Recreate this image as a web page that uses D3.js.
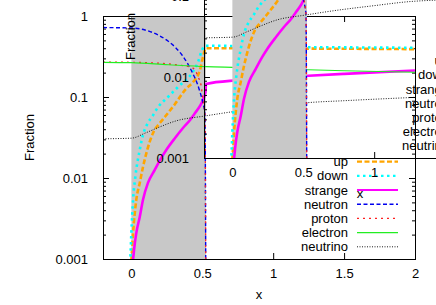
<!DOCTYPE html>
<html>
<head>
<meta charset="utf-8">
<script src="https://cdn.jsdelivr.net/npm/d3@7"></script>
<style>
  body { margin: 0; background: #fff; }
  svg { display: block; font-family: "Liberation Sans", Arial, sans-serif; }
</style>
</head>
<body>
<svg id="chart" width="436" height="305"></svg>
<script>
'use strict';

// axis ticks and the shaded mixed phase
const xTicks = [0, 0.5, 1, 1.5, 2];
const yTicks = [0.001, 0.01, 0.1, 1];
const mixedPhase = [0, 0.526];

// particle fractions
const upX = [0, 0.012, 0.035, 0.059, 0.082, 0.112, 0.153, 0.202, 0.237, 0.308, 0.385, 0.435, 0.484, 0.505, 0.526, 1.0, 1.5, 2.0];
const upY = [0.00095, 0.0021, 0.0054, 0.0087, 0.0137, 0.0222, 0.036, 0.048, 0.057, 0.082, 0.126, 0.153, 0.216, 0.31, 0.40, 0.397, 0.394, 0.39];

const downX = [-0.008, 0.0, 0.012, 0.028, 0.059, 0.082, 0.117, 0.146, 0.188, 0.258, 0.329, 0.428, 0.470, 0.498, 0.526, 1.0, 1.5, 2.0];
const downY = [0.0009, 0.0021, 0.0054, 0.0103, 0.0222, 0.034, 0.048, 0.057, 0.075, 0.10, 0.133, 0.198, 0.27, 0.38, 0.43, 0.415, 0.41, 0.405];

const strangeX = [0.010, 0.019, 0.035, 0.059, 0.082, 0.117, 0.165, 0.211, 0.246, 0.308, 0.364, 0.414, 0.449, 0.484, 0.505, 0.523, 0.526, 0.75, 1.0, 1.25, 1.5, 2.0];
const strangeY = [0.0009, 0.0013, 0.0021, 0.0033, 0.0054, 0.0087, 0.0126, 0.0177, 0.0222, 0.0312, 0.0414, 0.052, 0.0634, 0.0775, 0.092, 0.115, 0.145, 0.161, 0.172, 0.183, 0.193, 0.212];

const neutronX = [-0.2, 0.0, 0.096, 0.188, 0.258, 0.308, 0.357, 0.399, 0.435, 0.463, 0.484, 0.505, 0.519, 0.526];
const neutronY = [0.72, 0.71, 0.672, 0.583, 0.491, 0.414, 0.33, 0.255, 0.192, 0.149, 0.115, 0.084, 0.06, 0.0001];

const protonX = [-0.2, 0.0, 0.188, 0.329, 0.414, 0.449, 0.47, 0.491, 0.505, 0.519, 0.526];
const protonY = [0.27, 0.268, 0.262, 0.248, 0.235, 0.216, 0.177, 0.141, 0.092, 0.06, 0.0001];

const electronX = [-0.2, 0.0, 0.26, 0.526, 0.75, 1.0, 1.25, 1.5, 2.0];
const electronY = [0.268, 0.265, 0.25, 0.237, 0.232, 0.225, 0.217, 0.211, 0.202];

const neutrinoX = [-0.2, 0.0, 0.1, 0.18, 0.32, 0.51, 0.72, 1.0, 1.24, 1.5, 2.0];
const neutrinoY = [0.0305, 0.031, 0.036, 0.0413, 0.051, 0.058, 0.066, 0.076, 0.085, 0.09, 0.099];

const seriesNames = ['up', 'down', 'strange', 'neutron', 'proton', 'electron', 'neutrino'];
const seriesX = [upX, downX, strangeX, neutronX, protonX, electronX, neutrinoX];
const seriesY = [upY, downY, strangeY, neutronY, protonY, electronY, neutrinoY];

// line styles, same order as seriesNames
const styles = [
    { color: '#ffa500', width: 2.6, dash: '5,2.5' },
    { color: '#00ffff', width: 2.6, dash: '2.5,3.5' },
    { color: '#ff00ff', width: 2.6, dash: null },
    { color: '#0000ee', width: 1.4, dash: '4,2.5' },
    { color: '#ff2020', width: 1.3, dash: '2,4' },
    { color: '#22ee22', width: 1.2, dash: null },
    { color: '#000000', width: 0.9, dash: '1,1.5' }
];

const W = 312, H = 243;
const FONT = 13;
const x = d3.scaleLinear().domain([-0.2, 2]).range([0, W]);
const y = d3.scaleLog().domain([0.001, 1]).range([H, 0]);
const yMinor = yTicks.slice(0, -1).flatMap(t => d3.range(2, 10).map(m => m * t));
const fmt = d3.format('~g');

const line = d3.line()
    .x(d => x(d[0]))
    .y(d => y(d[1]))
    .curve(d3.curveMonotoneX);

const svg = d3.select('#chart');

function drawPanel(dx, dy, id) {
    const g = svg.append('g').attr('transform', `translate(${dx},${dy})`);
    g.append('clipPath').attr('id', id)
        .append('rect').attr('width', W).attr('height', H);

    // ticks point inward, mirrored on all sides
    const axes = g.append('g');
    axes.append('g')
        .call(d3.axisLeft(y).tickValues(yTicks).tickFormat(fmt).tickSizeInner(-6).tickSizeOuter(0).tickPadding(15));
    axes.append('g')
        .call(d3.axisLeft(y).tickValues(yMinor).tickFormat('').tickSizeInner(-3).tickSizeOuter(0));
    axes.append('g').attr('transform', `translate(${W},0)`)
        .call(d3.axisRight(y).tickValues(yTicks).tickFormat('').tickSizeInner(-6).tickSizeOuter(0));
    axes.append('g').attr('transform', `translate(${W},0)`)
        .call(d3.axisRight(y).tickValues(yMinor).tickFormat('').tickSizeInner(-3).tickSizeOuter(0));
    axes.append('g').attr('transform', `translate(0,${H})`)
        .call(d3.axisBottom(x).tickValues(xTicks).tickFormat(fmt).tickSizeInner(-6).tickSizeOuter(0).tickPadding(10));
    axes.append('g')
        .call(d3.axisTop(x).tickValues(xTicks).tickFormat('').tickSizeInner(-6).tickSizeOuter(0));
    axes.selectAll('.domain').remove();
    axes.selectAll('.tick line').attr('stroke', '#000');
    axes.selectAll('text')
        .attr('fill', '#000')
        .attr('font-size', FONT)
        .attr('font-family', '"Liberation Sans", Arial, sans-serif');

    // mixed phase band
    g.append('rect')
        .attr('x', x(mixedPhase[0]))
        .attr('y', 0)
        .attr('width', x(mixedPhase[1]) - x(mixedPhase[0]))
        .attr('height', H)
        .attr('fill', '#c8c8c8');

    const curves = g.append('g').attr('clip-path', `url(#${id})`);
    seriesNames.forEach((name, i) => {
        const pts = seriesX[i].map((v, j) => [v, seriesY[i][j]]);
        curves.append('path')
            .attr('d', line(pts))
            .attr('fill', 'none')
            .attr('stroke', styles[i].color)
            .attr('stroke-width', styles[i].width)
            .attr('stroke-dasharray', styles[i].dash);
    });

    g.append('rect')
        .attr('x', 0.5).attr('y', 0.5)
        .attr('width', W).attr('height', H)
        .attr('fill', 'none')
        .attr('stroke', '#000')
        .attr('stroke-width', 1);

    g.append('text')
        .attr('transform', `translate(-69.5,${H / 2}) rotate(-90)`)
        .attr('text-anchor', 'middle')
        .attr('font-size', FONT)
        .text('Fraction');
    g.append('text')
        .attr('x', W / 2)
        .attr('y', 282.5)
        .attr('text-anchor', 'middle')
        .attr('font-size', FONT)
        .text('x');

    // key, bottom right
    const key = g.append('g');
    seriesNames.forEach((name, i) => {
        const ry = 145.6 + i * 14.2;
        key.append('text')
            .attr('x', 245)
            .attr('y', ry)
            .attr('dy', '0.35em')
            .attr('text-anchor', 'end')
            .attr('font-size', FONT)
            .text(name);
        key.append('line')
            .attr('x1', 254).attr('x2', 295)
            .attr('y1', ry).attr('y2', ry)
            .attr('stroke', styles[i].color)
            .attr('stroke-width', Math.min(styles[i].width, 2.2))
            .attr('stroke-dasharray', styles[i].dash);
    });
}

// main plot, then the same plot laid over it shifted up and right
drawPanel(103, 16, 'clipMain');
drawPanel(204, -85, 'clipInset');
</script>
</body>
</html>
